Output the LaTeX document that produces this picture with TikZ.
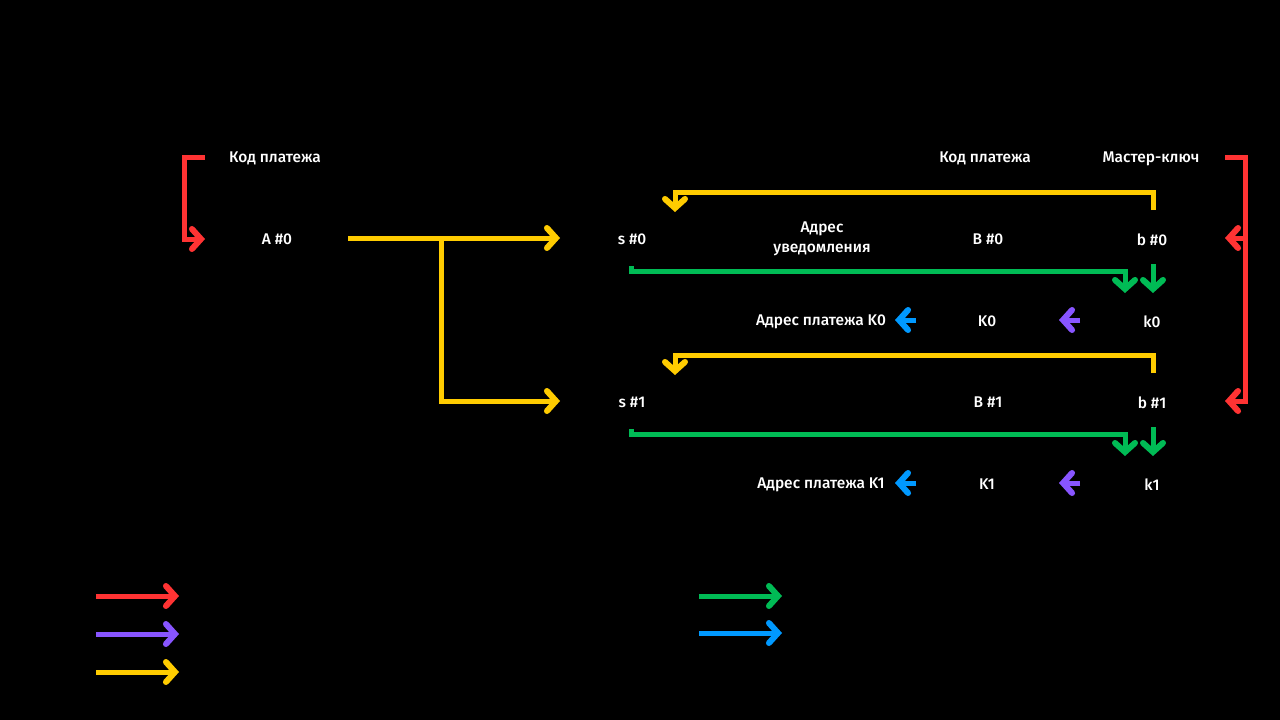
\documentclass[tikz,border=0pt]{standalone}
\usepackage{fontspec}
\setmainfont{Fira Sans Medium}
\usetikzlibrary{arrows.meta}
\definecolor{kred}{HTML}{FF3333}
\definecolor{kyellow}{HTML}{FFCC00}
\definecolor{kgreen}{HTML}{00BB55}
\definecolor{kpurple}{HTML}{8855FF}
\definecolor{kblue}{HTML}{0099FF}
\begin{document}
\begin{tikzpicture}[x=1pt,y=-1pt,
  lbl/.style={text=white,font=\fontsize{15.5}{20}\selectfont,inner sep=0pt,align=center,yshift=-1.5pt},
  link/.style={line width=5pt,line join=miter,
    -{Straight Barb[length=9pt,width=20pt,line width=6pt,line cap=round]}},
  plain/.style={line width=5pt,line join=miter}]
\useasboundingbox[fill=black] (0,0) rectangle (1280,720);

% labels
\node[lbl] (kod1) at (275,157) {Код платежа};
\node[lbl] (a0) at (277,238) {A \#0};
\node[lbl] (s0) at (632,238) {s \#0};
\node[lbl] (notif) at (822,237) {Адрес\\уведомления};
\node[lbl] (B0) at (988,238) {B \#0};
\node[lbl] (b0) at (1152,238) {b \#0};
\node[lbl] (kod2) at (985,157) {Код платежа};
\node[lbl] (master) at (1151,157) {Мастер-ключ};
\node[lbl] (pay0) at (821,320) {Адрес платежа K0};
\node[lbl] (K0) at (987,320) {K0};
\node[lbl] (k0) at (1152,320) {k0};
\node[lbl] (s1) at (632,401) {s \#1};
\node[lbl] (B1) at (988,401) {B \#1};
\node[lbl] (b1) at (1152,401) {b \#1};
\node[lbl] (pay1) at (821,483) {Адрес платежа K1};
\node[lbl] (K1) at (987,483) {K1};
\node[lbl] (k1) at (1152,483) {k1};

% connector end points
\coordinate (aout) at (348,238);
\coordinate (s0in) at (560,238);
\coordinate (s1in) at (560,401);
\coordinate (split) at (441,238);
\coordinate (lred) at (205,157);
\coordinate (a0in) at (205,239);
\coordinate (rred) at (1225,157);
\coordinate (b0in) at (1225,238);
\coordinate (b1in) at (1225,401);
\coordinate (b0up) at (1153,210);
\coordinate (s0dn) at (675,212);
\coordinate (b1up) at (1153,373);
\coordinate (s1dn) at (675,375);
\coordinate (s0g) at (631,266);
\coordinate (k0g) at (1125,293);
\coordinate (b0g) at (1153,264);
\coordinate (k0b) at (1153,293);
\coordinate (s1g) at (631,429);
\coordinate (k1g) at (1125,456);
\coordinate (b1g) at (1153,427);
\coordinate (k1b) at (1153,456);
\coordinate (k0p) at (1080,320);
\coordinate (K0p) at (1059,320);
\coordinate (k1p) at (1080,483);
\coordinate (K1p) at (1059,483);
\coordinate (K0b) at (916,320);
\coordinate (pay0b) at (895,320);
\coordinate (K1b) at (916,483);
\coordinate (pay1b) at (895,483);

% red: master key and payment code inputs
\draw[link,kred] (lred) -- (184,157) -- (184,239) -- (a0in);
\draw[link,kred] (rred) -- (1245,157) -- (1245,401) -- (b1in);
\draw[link,kred] (1245,238) -- (b0in);

% yellow: derivation of the shared secrets
\draw[link,kyellow] (aout) -- (s0in);
\draw[link,kyellow] (split) -- (441,401) -- (s1in);
\draw[link,kyellow] (b0up) -- (1153,192) -- (675,192) -- (s0dn);
\draw[link,kyellow] (b1up) -- (1153,355) -- (675,355) -- (s1dn);

% green: tweaking the private keys
\draw[link,kgreen] (s0g) -- (631,271) -- (1125,271) -- (k0g);
\draw[link,kgreen] (b0g) -- (k0b);
\draw[link,kgreen] (s1g) -- (631,434) -- (1125,434) -- (k1g);
\draw[link,kgreen] (b1g) -- (k1b);

% purple and blue: public key and address
\draw[link,kpurple] (k0p) -- (K0p);
\draw[link,kpurple] (k1p) -- (K1p);
\draw[link,kblue] (K0b) -- (pay0b);
\draw[link,kblue] (K1b) -- (pay1b);

% legend
\draw[link,kred] (96,596) -- (179,596);
\draw[link,kpurple] (96,634) -- (179,634);
\draw[link,kyellow] (96,672) -- (179,672);
\draw[link,kgreen] (699,596) -- (782,596);
\draw[link,kblue] (699,633) -- (782,633);
\end{tikzpicture}
\end{document}
